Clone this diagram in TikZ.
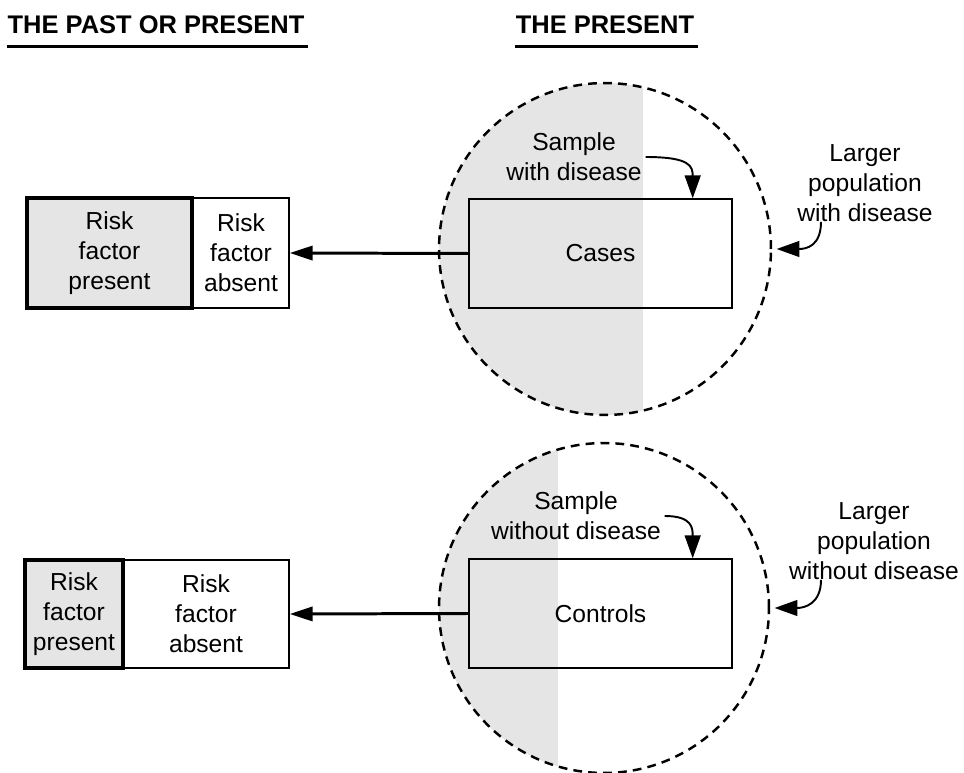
\documentclass[tikz,border=0pt]{standalone}
\usepackage{fontspec}
\setmainfont{Liberation Sans}
\usetikzlibrary{arrows.meta}
\definecolor{popgray}{gray}{0.9}

\tikzset{
  txt/.style={align=center, inner sep=0pt, font=\fontsize{14}{17}\selectfont},
  head/.style={inner sep=0pt, font=\fontsize{14.5}{17}\selectfont\bfseries},
  box/.style={txt, draw, line width=0.8pt},
  thickbox/.style={box, fill=popgray, line width=2.4pt},
  popcircle/.style={draw, circle, line width=1.4pt, dash pattern=on 5pt off 3.5pt, inner sep=0pt},
  bigarrow/.style={line width=1.7pt, -{Triangle[length=13pt,width=8pt]}},
  bendarrow/.style={line width=1.1pt, -{Triangle[length=13pt,width=9pt]}}
}

\begin{document}
\begin{tikzpicture}[x=0.02cm, y=-0.02cm]
   \useasboundingbox (0,0) rectangle (964,773);

   % headings
   \node [head] (past) at (156,25) {THE PAST OR PRESENT};
   \node [head] (now)  at (605,25) {THE PRESENT};
   \draw [line width=1.3pt] ([yshift=-0.24cm]past.south west) -- ([shift={(0.06cm,-0.24cm)}]past.south east);
   \draw [line width=1.3pt] ([yshift=-0.24cm]now.south west)  -- ([shift={(0.06cm,-0.24cm)}]now.south east);

   % shaded part of the populations
   \begin{scope}
      \clip (605,249) circle [radius=3.32cm];
      \fill [popgray] (430,80) rectangle (643,420);
   \end{scope}
   \begin{scope}
      \clip (604,608) circle [radius=3.3cm];
      \fill [popgray] (430,440) rectangle (558,780);
   \end{scope}
   \node [popcircle, minimum size=6.64cm] (popup)   at (605,249) {};
   \node [popcircle, minimum size=6.6cm]  (popdown) at (604,608) {};

   % cases
   \node [box, minimum width=5.26cm, minimum height=2.18cm] (cases) at (600.5,253.5) {Cases};
   \node [txt] (samp1) at (574,157) {Sample\\with disease};
   \node [txt] (pop1)  at (865,183) {Larger\\population\\with disease};
   \node [box, minimum width=1.92cm, minimum height=2.2cm] (absent1)  at (241,253)   {Risk\\factor\\absent};
   \node [thickbox, minimum width=3.3cm, minimum height=2.2cm] (present1) at (109.5,253) {Risk\\factor\\present};

   % controls
   \node [box, minimum width=5.26cm, minimum height=2.18cm] (controls) at (600.5,613.5) {Controls};
   \node [txt] (samp2) at (576,516) {Sample\\without disease};
   \node [txt] (pop2)  at (874,541) {Larger\\population\\without disease};
   \node [box, minimum width=3.32cm, minimum height=2.16cm] (absent2)  at (206,614) {Risk\\factor\\absent};
   \node [thickbox, minimum width=1.96cm, minimum height=2.16cm] (present2) at (74,614) {Risk\\factor\\present};

   % arrows
   \draw [bigarrow] (cases.west)    -- (absent1.east);
   \draw [bigarrow] (controls.west) -- (absent2.east);
   \draw [bendarrow] ([xshift=2pt]samp1.east) .. controls +(45,0) and +(0,-32) .. ([xshift=-0.8cm]cases.north east);
   \draw [bendarrow] ([xshift=2pt]samp2.east) .. controls +(28,0) and +(0,-30) .. ([xshift=-0.8cm]controls.north east);
   \draw [bendarrow] ([xshift=-0.88cm]pop1.south) .. controls +(0,24) and +(30,0) .. ([xshift=2.5pt]popup.east);
   \draw [bendarrow] ([xshift=-1.06cm]pop2.south) .. controls +(0,24) and +(30,0) .. ([xshift=2.5pt]popdown.east);
\end{tikzpicture}
\end{document}
